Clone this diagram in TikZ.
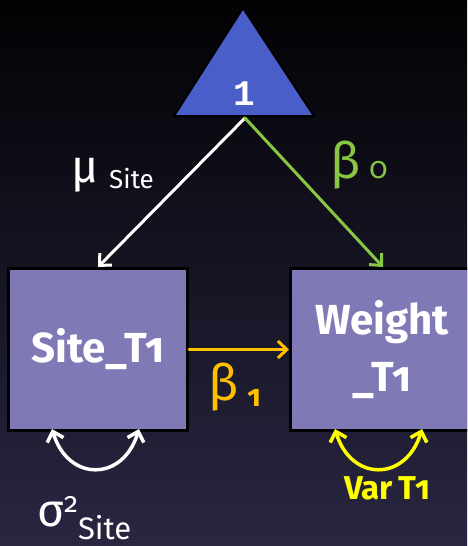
\documentclass[tikz,border=0pt]{standalone}
\usepackage{fontspec}
\setmainfont[Numbers=OldStyle]{Fira Sans}
\newfontfamily\monofont{Liberation Mono}
\usetikzlibrary{arrows.meta}
\definecolor{bgtop}{RGB}{2,2,4}
\definecolor{bgbot}{RGB}{41,38,66}
\definecolor{boxfill}{RGB}{127,122,182}
\definecolor{trifill}{RGB}{74,94,201}
\definecolor{betagreen}{RGB}{137,198,68}
\definecolor{betaorange}{RGB}{255,192,0}
\definecolor{varyellow}{RGB}{255,255,0}

\tikzset{
  var/.style={draw=black,line width=3pt,fill=boxfill,text=white,align=center,
    font=\bfseries\fontsize{42}{57}\selectfont,minimum height=162pt,inner sep=0pt},
  path/.style={line width=3pt,->},
  cov/.style={line width=3.5pt,<->},
  lbl/.style={inner sep=0pt,anchor=base west}
}

\begin{document}
\begin{tikzpicture}[x=1pt,y=-1pt,>={Straight Barb[length=9pt,width=17pt]},line cap=round]
\clip (0,0) rectangle (467,546);
\shade[top color=bgtop,bottom color=bgbot] (0,0) rectangle (467,546);
% mean triangle
\filldraw[fill=trifill,draw=black,line width=2pt] (243,8) -- (314,116) -- (174,116) -- cycle;
\node[text=white,font=\monofont\bfseries\fontsize{36}{36}\selectfont] (one) at (244,94) {1};
\coordinate (base) at (245,118);
% observed variables
\node[var,minimum width=179pt] (site) at (98,349.5) {Site\_T1};
\node[var,minimum width=183pt] (weight) at (382,349.5) {Weight\\\_T1};
% paths
\draw[path,white] (base) -- (site.north);
\draw[path,betagreen] (base) -- ([xshift=1pt]weight.north);
\draw[path,betaorange] (site.east) -- (weight.west);
\node[lbl,text=white] (musite) at (71,182)
  {{\fontsize{46}{46}\selectfont μ}\hspace{11pt}\raisebox{-6pt}{\fontsize{26}{26}\selectfont Site}};
\node[lbl,text=betagreen] (beta0) at (330,178)
  {{\fontsize{50}{50}\selectfont β}\hspace{9pt}{\fontsize{30}{30}\selectfont 0}};
\node[lbl,text=betaorange] (beta1) at (208,400)
  {{\fontsize{50}{50}\selectfont β}\hspace{9pt}\raisebox{-6pt}{\bfseries\fontsize{30}{30}\selectfont 1}};
% variances
\coordinate (siteL) at (52,429);
\coordinate (siteR) at (139,429);
\draw[cov,white] (siteL) .. controls (68,482) and (123,482) .. (siteR);
\node[lbl,text=white] (sigsite) at (37,526)
  {{\fontsize{46}{46}\selectfont σ}\raisebox{14pt}{\fontsize{28}{28}\selectfont 2}\raisebox{-13pt}{\fontsize{31}{31}\selectfont Site}};
\coordinate (weightL) at (335,429);
\coordinate (weightR) at (422,429);
\draw[cov,varyellow] (weightL) .. controls (351,482) and (406,482) .. (weightR);
\node[lbl,text=varyellow,font=\bfseries\fontsize{33}{33}\selectfont] (varT) at (344,499) {Var\,T1};
\end{tikzpicture}
\end{document}
